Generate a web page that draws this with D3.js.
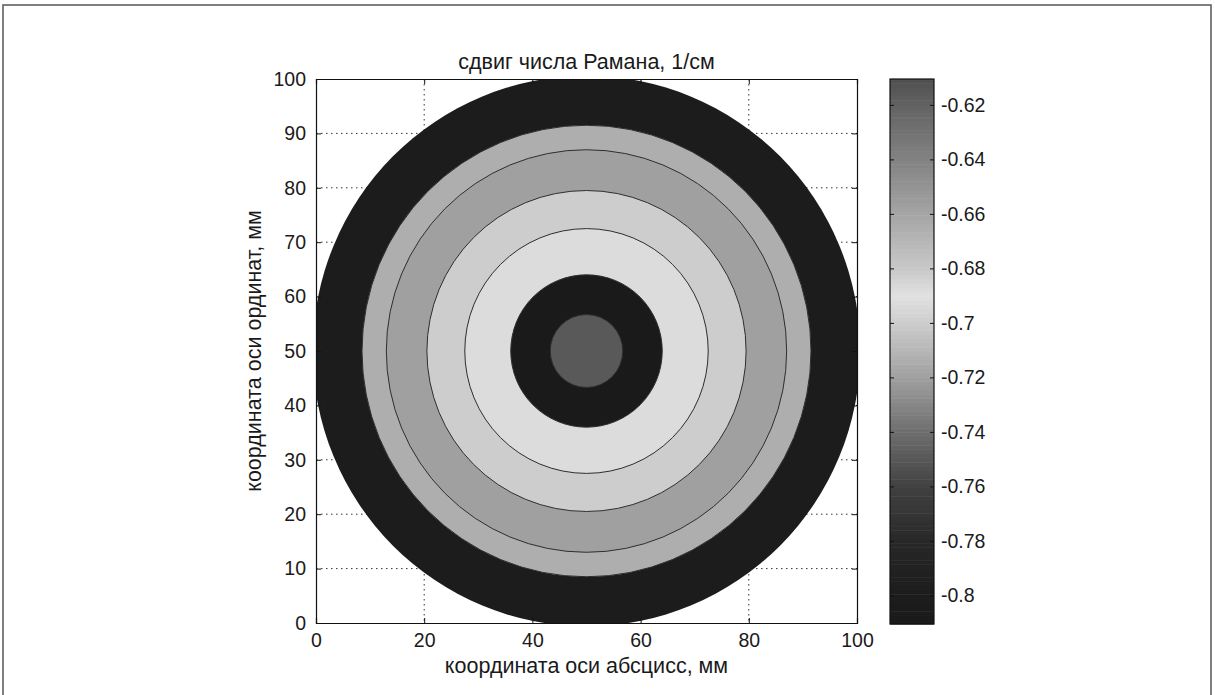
<!DOCTYPE html>
<html>
<head>
<meta charset="utf-8">
<script src="https://cdn.jsdelivr.net/npm/d3@7"></script>
<style>
  body { margin: 0; background: #fff; }
  text { font-family: "Liberation Sans", Arial, sans-serif; fill: #1a1a1a; }
</style>
</head>
<body>
<svg id="chart" width="1215" height="695"></svg>
<script>
// Axis ticks (mm) and colour-bar ticks (1/cm)
const xTicks = [0, 20, 40, 60, 80, 100];
const yTicks = [0, 10, 20, 30, 40, 50, 60, 70, 80, 90, 100];
const cbTicks = [-0.8, -0.78, -0.76, -0.74, -0.72, -0.7, -0.68, -0.66, -0.64, -0.62];
const cbTickLabels = ["-0.8", "-0.78", "-0.76", "-0.74", "-0.72", "-0.7", "-0.68", "-0.66", "-0.64", "-0.62"];
const cbRange = [-0.8105, -0.6105];

// Grey colour map: value -> grey level
const cmapValue = [-0.8105, -0.80, -0.78, -0.76, -0.74, -0.72, -0.70, -0.69, -0.68, -0.66, -0.64, -0.62, -0.6105];
const cmapGray  = [26, 28, 40, 65, 110, 160, 205, 225, 200, 165, 130, 98, 80];

// Filled contour bands around the wafer centre: outer radius (mm) and band value
const centre = [50, 50];
const ringRadius = [50.6, 41.5, 37.0, 29.5, 22.5, 14.0, 6.7];
const ringValue  = [-0.80, -0.665, -0.657, -0.682, -0.688, -0.81, -0.615];
// Contour line radii (mm)
const contourRadius = [41.5, 37.0, 29.5, 22.5, 14.0, 6.7];

const svg = d3.select("#chart");

// page frame
svg.append("rect").attr("x", 3).attr("y", 5).attr("width", 1208).attr("height", 700)
  .attr("fill", "none").attr("stroke", "#555").attr("stroke-width", 1.5);

const plot = { left: 316, right: 857, top: 79, bottom: 623 };
const x = d3.scaleLinear().domain([0, 100]).range([plot.left, plot.right]);
const y = d3.scaleLinear().domain([0, 100]).range([plot.bottom, plot.top]);

const grayScale = d3.scaleLinear().domain(cmapValue).range(cmapGray).clamp(true);
const colour = v => { const g = Math.round(grayScale(v)); return `rgb(${g},${g},${g})`; };

svg.append("defs").append("clipPath").attr("id", "plotClip")
  .append("rect").attr("x", plot.left).attr("y", plot.top)
  .attr("width", plot.right - plot.left).attr("height", plot.bottom - plot.top);

// dotted grid (beneath the contour fill)
const grid = svg.append("g").attr("stroke", "#333").attr("stroke-width", 1)
  .attr("stroke-dasharray", "1.5,3.5");
grid.selectAll(".gx").data(xTicks.slice(1, -1)).join("line")
  .attr("x1", d => x(d)).attr("x2", d => x(d))
  .attr("y1", plot.top).attr("y2", plot.bottom);
grid.selectAll(".gy").data(yTicks.slice(1, -1)).join("line")
  .attr("y1", d => y(d)).attr("y2", d => y(d))
  .attr("x1", plot.left).attr("x2", plot.right);

const field = svg.append("g").attr("clip-path", "url(#plotClip)");
const bands = ringRadius.map((r, i) => ({ r, v: ringValue[i] }));
field.selectAll("ellipse.band").data(bands).join("ellipse")
  .attr("class", "band")
  .attr("cx", x(centre[0])).attr("cy", y(centre[1]))
  .attr("rx", d => x(centre[0] + d.r) - x(centre[0]))
  .attr("ry", d => y(centre[1]) - y(centre[1] + d.r))
  .attr("fill", d => colour(d.v));

field.selectAll("ellipse.iso").data(contourRadius).join("ellipse")
  .attr("class", "iso")
  .attr("cx", x(centre[0])).attr("cy", y(centre[1]))
  .attr("rx", d => x(centre[0] + d) - x(centre[0]))
  .attr("ry", d => y(centre[1]) - y(centre[1] + d))
  .attr("fill", "none").attr("stroke", "#2e2e2e").attr("stroke-width", 1);

// axes with inward ticks on all four sides
const tickLen = 5;
const axes = svg.append("g");
axes.append("g").attr("transform", `translate(0,${plot.bottom})`)
  .call(d3.axisBottom(x).tickValues(xTicks).tickSize(-tickLen).tickPadding(10).tickFormat(d3.format("d")));
axes.append("g").attr("transform", `translate(0,${plot.top})`)
  .call(d3.axisTop(x).tickValues(xTicks).tickSize(-tickLen).tickFormat(""));
axes.append("g").attr("transform", `translate(${plot.left},0)`)
  .call(d3.axisLeft(y).tickValues(yTicks).tickSize(-tickLen).tickPadding(10).tickFormat(d3.format("d")));
axes.append("g").attr("transform", `translate(${plot.right},0)`)
  .call(d3.axisRight(y).tickValues(yTicks).tickSize(-tickLen).tickFormat(""));
axes.selectAll(".domain").attr("stroke", "#111").attr("stroke-width", 1.2);
axes.selectAll(".tick line").attr("stroke", "#111");
axes.selectAll(".tick text").attr("font-size", 19.5).attr("font-family", "Liberation Sans, Arial, sans-serif").attr("fill", "#1a1a1a");

// titles
svg.append("text").attr("x", (plot.left + plot.right) / 2).attr("y", 69)
  .attr("text-anchor", "middle").attr("font-size", 21.5).text("сдвиг числа Рамана, 1/см");
svg.append("text").attr("x", (plot.left + plot.right) / 2).attr("y", 673)
  .attr("text-anchor", "middle").attr("font-size", 21.5).text("координата оси абсцисс, мм");
svg.append("text").attr("transform", `translate(261,${(plot.top + plot.bottom) / 2}) rotate(-90)`)
  .attr("text-anchor", "middle").attr("font-size", 21.5).text("координата оси ординат, мм");

// colour bar
const cb = { left: 890, right: 934, top: 79, bottom: 624 };
const cy = d3.scaleLinear().domain(cbRange).range([cb.bottom, cb.top]);
const steps = 128;
const stepVals = d3.range(steps).map(i => cbRange[0] + (i + 0.5) * (cbRange[1] - cbRange[0]) / steps);
const dv = (cbRange[1] - cbRange[0]) / steps;
svg.append("g").selectAll("rect").data(stepVals).join("rect")
  .attr("x", cb.left).attr("width", cb.right - cb.left)
  .attr("y", d => cy(d + dv / 2)).attr("height", d => cy(d - dv / 2) - cy(d + dv / 2) + 0.5)
  .attr("fill", d => colour(d));
svg.append("rect").attr("x", cb.left).attr("y", cb.top)
  .attr("width", cb.right - cb.left).attr("height", cb.bottom - cb.top)
  .attr("fill", "none").attr("stroke", "#111").attr("stroke-width", 1.2);
const cbAxis = svg.append("g").attr("transform", `translate(${cb.right},0)`)
  .call(d3.axisRight(cy).tickValues(cbTicks).tickSize(-4).tickPadding(7)
    .tickFormat((d, i) => cbTickLabels[i]));
cbAxis.select(".domain").remove();
cbAxis.selectAll(".tick line").attr("stroke", "#111");
cbAxis.selectAll(".tick text").attr("font-size", 19.5).attr("font-family", "Liberation Sans, Arial, sans-serif").attr("fill", "#1a1a1a");
const cbAxisL = svg.append("g").attr("transform", `translate(${cb.left},0)`)
  .call(d3.axisLeft(cy).tickValues(cbTicks).tickSize(-4).tickFormat(""));
cbAxisL.select(".domain").remove();
cbAxisL.selectAll(".tick line").attr("stroke", "#111");
</script>
</body>
</html>
